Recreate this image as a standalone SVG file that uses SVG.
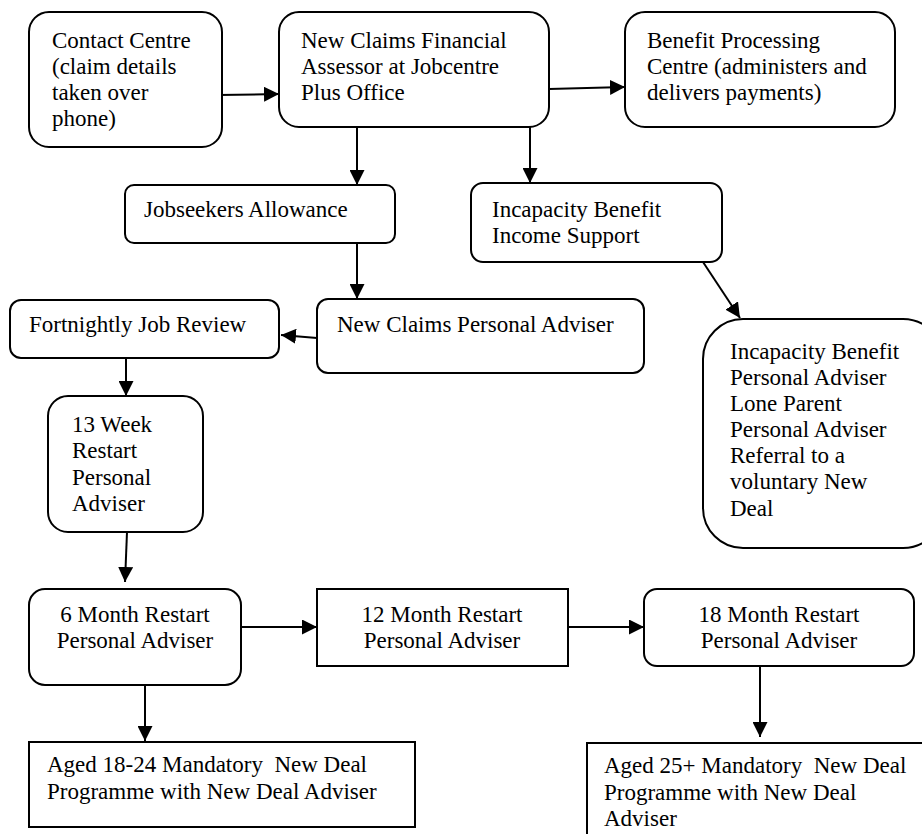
<svg xmlns="http://www.w3.org/2000/svg" width="922" height="834" viewBox="0 0 922 834">
<defs>
<style>
.b{fill:#fff;stroke:#000;stroke-width:2}
.t{font-family:"Liberation Serif","Times New Roman",serif;font-size:23px;fill:#000;white-space:pre}
.c line{stroke:#000;stroke-width:2}
.m{text-anchor:middle}
</style>
<marker id="ah" markerUnits="userSpaceOnUse" markerWidth="15" markerHeight="15" refX="15" refY="7.5" orient="auto"><path d="M0,0 L15,7.5 L0,15 z" fill="#000"/></marker>
</defs>
<rect width="922" height="834" fill="#fff"/>
<g class="c">
<line x1="218" y1="95" x2="279" y2="94" marker-end="url(#ah)"/>
<line x1="549" y1="89" x2="625" y2="87" marker-end="url(#ah)"/>
<line x1="357" y1="127" x2="357" y2="185" marker-end="url(#ah)"/>
<line x1="530" y1="127" x2="530" y2="183" marker-end="url(#ah)"/>
<line x1="357" y1="243" x2="357" y2="299" marker-end="url(#ah)"/>
<line x1="317" y1="338" x2="281" y2="335" marker-end="url(#ah)"/>
<line x1="703" y1="262" x2="740" y2="318" marker-end="url(#ah)"/>
<line x1="126" y1="358" x2="126" y2="396" marker-end="url(#ah)"/>
<line x1="127" y1="532" x2="125" y2="582" marker-end="url(#ah)"/>
<line x1="241" y1="627" x2="317" y2="627" marker-end="url(#ah)"/>
<line x1="568" y1="627" x2="644" y2="627" marker-end="url(#ah)"/>
<line x1="145" y1="685" x2="145" y2="741" marker-end="url(#ah)"/>
<line x1="760" y1="666" x2="760" y2="737" marker-end="url(#ah)"/>
</g>
<g id="contact">
<rect class="b" x="29" y="12" width="193" height="135" rx="20"/>
<text class="t" x="52" y="48">Contact Centre</text>
<text class="t" x="52" y="74">(claim details</text>
<text class="t" x="52" y="100">taken over</text>
<text class="t" x="52" y="126">phone)</text>
</g>
<g id="assessor">
<rect class="b" x="279" y="12" width="270" height="115" rx="20"/>
<text class="t" x="301" y="48">New Claims Financial</text>
<text class="t" x="301" y="74">Assessor at Jobcentre</text>
<text class="t" x="301" y="100">Plus Office</text>
</g>
<g id="processing">
<rect class="b" x="625" y="12" width="270" height="115" rx="20"/>
<text class="t" x="647" y="48">Benefit Processing</text>
<text class="t" x="647" y="74">Centre (administers and</text>
<text class="t" x="647" y="100">delivers payments)</text>
</g>
<g id="jsa">
<rect class="b" x="125" y="185" width="270" height="58" rx="9"/>
<text class="t" x="144" y="217">Jobseekers Allowance</text>
</g>
<g id="ib">
<rect class="b" x="471" y="183" width="251" height="79" rx="12"/>
<text class="t" x="492" y="217">Incapacity Benefit</text>
<text class="t" x="492" y="243">Income Support</text>
</g>
<g id="ncpa">
<rect class="b" x="317" y="299" width="327" height="74" rx="11"/>
<text class="t" x="337" y="332">New Claims Personal Adviser</text>
</g>
<g id="fortnightly">
<rect class="b" x="10" y="300" width="269" height="58" rx="11"/>
<text class="t" x="29" y="332">Fortnightly Job Review</text>
</g>
<g id="ibpa">
<rect class="b" x="703" y="319" width="240" height="229" rx="40"/>
<text class="t" x="730" y="359">Incapacity Benefit</text>
<text class="t" x="730" y="385">Personal Adviser</text>
<text class="t" x="730" y="411">Lone Parent</text>
<text class="t" x="730" y="437">Personal Adviser</text>
<text class="t" x="730" y="463">Referral to a</text>
<text class="t" x="730" y="489">voluntary New</text>
<text class="t" x="730" y="516">Deal</text>
</g>
<g id="week13">
<rect class="b" x="48" y="396" width="155" height="136" rx="20"/>
<text class="t" x="72" y="432">13 Week</text>
<text class="t" x="72" y="458">Restart</text>
<text class="t" x="72" y="485">Personal</text>
<text class="t" x="72" y="511">Adviser</text>
</g>
<g id="month6">
<rect class="b" x="29" y="589" width="212" height="96" rx="16"/>
<text class="t m" x="135" y="622">6 Month Restart</text>
<text class="t m" x="135" y="648">Personal Adviser</text>
</g>
<g id="month12">
<rect class="b" x="317" y="589" width="251" height="77"/>
<text class="t m" x="442" y="622">12 Month Restart</text>
<text class="t m" x="442" y="648">Personal Adviser</text>
</g>
<g id="month18">
<rect class="b" x="644" y="589" width="270" height="77" rx="13"/>
<text class="t m" x="779" y="622">18 Month Restart</text>
<text class="t m" x="779" y="648">Personal Adviser</text>
</g>
<g id="aged1824">
<rect class="b" x="29" y="742" width="386" height="85"/>
<text class="t" x="47" y="772" xml:space="preserve">Aged 18-24 Mandatory  New Deal</text>
<text class="t" x="47" y="799">Programme with New Deal Adviser</text>
</g>
<g id="aged25">
<rect class="b" x="587" y="743" width="360" height="110"/>
<text class="t" x="604" y="773" xml:space="preserve">Aged 25+ Mandatory  New Deal</text>
<text class="t" x="604" y="800">Programme with New Deal</text>
<text class="t" x="604" y="826">Adviser</text>
</g>
</svg>
